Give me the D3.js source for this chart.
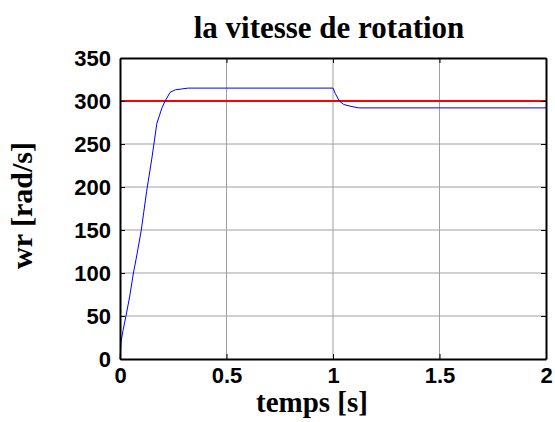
<!DOCTYPE html>
<html>
<head>
<meta charset="utf-8">
<script src="https://cdn.jsdelivr.net/npm/d3@7"></script>
<style>
  body { margin: 0; background: #fff; }
  svg { display: block; }
</style>
</head>
<body>
<svg></svg>
<script>
// speed response (time in s, speed in rad/s)
let timeValues  = [0, 0.005, 0.014, 0.028, 0.045, 0.063, 0.08, 0.1, 0.125, 0.15, 0.173, 0.197, 0.212, 0.235, 0.26, 0.29, 0.32, 0.5, 1.0, 1.01, 1.03, 1.05, 1.08, 1.12, 1.5, 2.0];
let speedValues = [0, 20, 33, 50, 72, 100, 122, 150, 195, 234, 274, 292, 300, 310, 313, 314, 315, 315, 315, 309, 300, 296, 294, 292, 292, 292];
let refTime  = [0, 2];
let refSpeed = [300, 300];
let xTicks = [0, 0.5, 1, 1.5, 2];
let yTicks = [0, 50, 100, 150, 200, 250, 300, 350];

window.addEventListener('load', e => {
    drawChart();
});

function drawChart() {
    let width = 555;
    let height = 422;
    let left = 120, right = 546, top = 58, bottom = 359;

    let xScale = d3.scaleLinear().domain([0, 2]).range([left, right]);
    let yScale = d3.scaleLinear().domain([0, 350]).range([bottom, top]);

    let svg = d3.select("svg")
        .attr("width", width)
        .attr("height", height);

    // grid
    svg.append("g")
        .selectAll("line")
        .data(xTicks.slice(1, -1))
        .enter()
        .append("line")
        .attr("x1", d => xScale(d)).attr("x2", d => xScale(d))
        .attr("y1", top).attr("y2", bottom)
        .attr("stroke", "#a0a0a0").attr("stroke-width", 1);
    svg.append("g")
        .selectAll("line")
        .data(yTicks.slice(1, -1))
        .enter()
        .append("line")
        .attr("x1", left).attr("x2", right)
        .attr("y1", d => yScale(d)).attr("y2", d => yScale(d))
        .attr("stroke", "#a0a0a0").attr("stroke-width", 1);

    let line = d3.line().x(d => xScale(d[0])).y(d => yScale(d[1]));

    svg.append("path")
        .datum(d3.zip(refTime, refSpeed))
        .attr("d", line)
        .attr("fill", "none")
        .attr("stroke", "#ff0000")
        .attr("stroke-width", 2);

    svg.append("path")
        .datum(d3.zip(timeValues, speedValues))
        .attr("d", line)
        .attr("fill", "none")
        .attr("stroke", "#0000ff")
        .attr("stroke-width", 1);

    // axes with inward ticks
    let xAxis = svg.append("g")
        .attr("transform", "translate(0," + bottom + ")")
        .call(d3.axisBottom(xScale).tickValues(xTicks).tickFormat(d3.format("")).tickSizeInner(-5).tickSizeOuter(0).tickPadding(8));
    let yAxis = svg.append("g")
        .attr("transform", "translate(" + left + ",0)")
        .call(d3.axisLeft(yScale).tickValues(yTicks).tickSizeInner(-5).tickSizeOuter(0).tickPadding(9));
    svg.append("g")
        .attr("transform", "translate(0," + top + ")")
        .call(d3.axisTop(xScale).tickValues(xTicks).tickFormat("").tickSizeInner(-5).tickSizeOuter(0));
    svg.append("g")
        .attr("transform", "translate(" + right + ",0)")
        .call(d3.axisRight(yScale).tickValues(yTicks).tickFormat("").tickSizeInner(-5).tickSizeOuter(0));

    svg.selectAll(".domain").attr("stroke", "#000").attr("stroke-width", 2);
    svg.selectAll(".tick line").attr("stroke", "#000");
    svg.selectAll(".tick text")
        .attr("fill", "#000")
        .style("font-family", "Arial, 'Liberation Sans', sans-serif")
        .style("font-weight", "bold")
        .style("font-size", "22px");
    xAxis.selectAll(".tick text").attr("dy", "0.71em");
    yAxis.selectAll(".tick text").attr("dy", "0.36em");

    // titles
    svg.append("text")
        .attr("x", (left + right) / 2 - 4)
        .attr("y", 38)
        .attr("text-anchor", "middle")
        .style("font-family", "'Times New Roman', 'Liberation Serif', serif")
        .style("font-weight", "bold")
        .style("font-size", "31px")
        .text("la vitesse de rotation");

    svg.append("text")
        .attr("x", (left + right) / 2 - 21)
        .attr("y", 412)
        .attr("text-anchor", "middle")
        .style("font-family", "'Times New Roman', 'Liberation Serif', serif")
        .style("font-weight", "bold")
        .style("font-size", "29px")
        .text("temps [s]");

    svg.append("text")
        .attr("transform", "translate(32," + ((top + bottom) / 2 - 3) + ") rotate(-90)")
        .attr("text-anchor", "middle")
        .style("font-family", "'Times New Roman', 'Liberation Serif', serif")
        .style("font-weight", "bold")
        .style("font-size", "30px")
        .text("wr [rad/s]");
}
</script>
</body>
</html>
